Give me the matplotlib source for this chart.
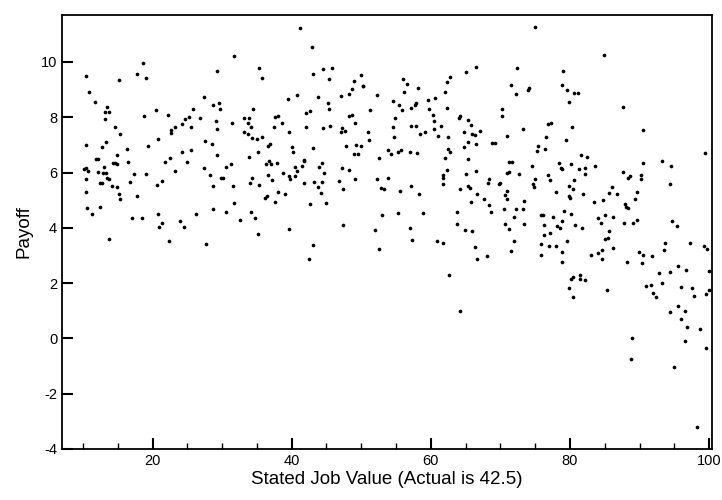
import matplotlib
matplotlib.use("Agg")
import matplotlib.pyplot as plt
from matplotlib.ticker import MultipleLocator

# stated job value (x) and payoff (y)
job_value = [
    10.4, 10.8, 11.8, 13.4, 13.1, 13.7, 13.2, 15.2, 17.7, 18.7, 19.0, 14.6, 15.3, 18.8, 20.5, 22.2,
    24.6, 25.3, 24.3, 23.2, 22.7, 22.7, 20.8, 19.3, 10.5, 12.7, 13.3, 16.3, 14.9, 11.9, 12.1, 14.3,
    14.6, 14.9, 16.5, 13.0, 10.2, 10.5, 10.7, 12.1, 12.9, 13.3, 17.3, 19.1, 21.8, 22.5, 23.3, 24.3,
    24.9,
    10.5, 12.4, 12.8, 13.5, 13.8, 14.2, 14.9, 16.7, 15.2, 15.3, 10.5, 17.8, 20.6, 21.3, 10.6, 11.3,
    12.5, 17.0, 18.5, 20.8, 21.4, 20.9, 23.9, 24.5, 13.8, 22.4,
    41.2, 31.7, 29.2, 35.3, 35.8, 27.4, 25.8, 28.7, 29.6, 29.7, 26.8, 29.1, 29.2, 25.6, 31.4, 33.2,
    33.9, 33.7, 34.1, 34.4, 33.1, 33.7, 34.3, 35.0, 35.8, 37.6, 38.1, 38.6, 37.4, 39.5, 40.7, 39.6,
    27.5, 28.6, 25.5, 29.2, 27.4, 28.3, 30.5, 31.3, 33.8, 35.1, 36.6, 36.9, 36.3, 37.0, 36.8, 37.9,
    38.7, 36.6, 40.0, 40.2, 40.5, 40.7, 41.5, 41.7, 41.8,
    29.9, 30.2, 28.7, 31.6, 34.0, 34.3, 35.3, 37.2, 39.6, 39.8, 40.5, 41.8, 36.1, 36.5, 38.0, 39.0,
    37.6, 31.7, 28.7, 26.2, 30.6, 34.2, 34.7, 32.6, 39.6, 35.1, 27.7,
    42.9, 43.0, 44.5, 45.8, 45.4, 43.8, 45.2, 45.4, 42.1, 42.6, 42.1, 44.5, 45.5, 47.1, 48.2, 48.7,
    48.9, 50.0, 50.2, 50.3, 52.3, 48.3, 48.7, 49.1, 51.2, 47.3, 47.1, 47.7, 50.9, 51.1, 47.8, 49.2,
    49.9, 48.9, 49.5, 43.1, 43.9, 44.3, 44.6, 47.3, 48.3, 52.5, 53.9, 54.3, 55.3, 55.7, 57.0, 58.0,
    56.0, 56.6, 56.2, 58.2, 54.6, 55.4, 55.9, 57.1, 57.7, 57.9, 54.9, 54.6, 54.7, 57.2, 57.9,
    43.2, 44.4, 43.8, 44.2, 46.8, 47.4, 49.1, 52.3, 53.8, 52.9, 53.2, 55.5, 57.1, 58.3, 42.6, 44.9,
    53.0, 55.3, 47.4, 52.0, 57.0, 57.3, 43.0, 52.5, 42.5,
    65.0, 66.5, 62.7, 62.3, 62.1, 60.6, 59.6, 59.7, 60.3, 62.3, 60.5, 61.4, 60.4, 59.1, 58.5, 61.1,
    64.0, 64.2, 65.4, 65.8, 64.7, 65.9, 66.4, 67.1, 62.5, 65.3, 66.5, 64.7, 62.5, 62.8, 62.1, 65.3,
    62.3, 61.7, 65.0, 66.5, 68.8, 69.2, 70.9, 70.2, 70.2, 71.5, 72.2, 72.4, 74.0, 74.1, 73.3, 71.2,
    71.6, 70.9, 71.2, 72.7,
    61.7, 61.7, 68.3, 68.2, 69.8, 70.0, 64.2, 65.4, 65.6, 66.6, 65.8, 67.6, 68.4, 68.7, 70.9, 70.7,
    71.0, 70.5, 72.3, 73.3, 73.4, 72.0, 58.9, 63.8, 63.8, 64.9, 65.9, 70.7, 71.2, 73.4, 71.9, 71.5,
    60.9, 61.8, 66.3, 66.7, 68.1, 62.6, 64.2,
    75.0, 84.9, 79.0, 78.9, 79.6, 80.6, 81.1, 79.9, 87.6, 76.8, 77.3, 80.3, 76.5, 79.4, 75.4, 75.2,
    76.4, 90.5, 81.6, 82.5, 74.6, 78.4, 78.7, 78.9, 80.1, 81.3, 82.1, 83.6, 76.8, 82.2, 90.5, 87.6,
    99.4, 93.2, 94.5,
    74.7, 74.8, 75.0, 77.2, 78.0, 79.9, 80.4, 80.6, 79.9, 80.0, 81.9, 88.4, 88.7, 90.2, 90.2, 86.1,
    85.6, 86.8, 89.7, 89.3, 83.5, 84.8, 87.9, 88.1, 88.3, 75.9, 76.1, 77.6, 79.1, 80.1, 78.9, 76.2,
    78.2, 78.6, 80.7, 81.7, 84.0, 85.0, 86.2, 84.5, 87.8, 89.1, 89.6, 85.6, 76.2, 77.2, 79.6, 85.1,
    85.5, 75.9, 77.0, 78.0, 75.9, 78.8, 78.9, 83.0, 84.0, 84.6, 84.6, 86.2, 88.2, 89.9, 90.5, 90.4,
    80.4, 80.1, 81.4, 81.4, 82.2, 79.9, 80.4, 85.3, 91.0, 88.9, 88.8,
    94.4, 94.6, 95.4, 97.2, 91.8, 92.8, 93.3, 92.4, 94.4, 95.6, 96.7, 95.9, 97.5, 97.8, 95.6, 96.6,
    96.0, 94.4, 96.8, 98.7, 99.7, 99.3, 100.0, 99.6, 100.0, 99.5, 96.6, 95.0, 98.2, 93.5, 93.7, 91.6,
    92.0,
]
payoff = [
    9.49, 8.90, 8.57, 8.38, 8.20, 8.20, 7.93, 9.36, 9.56, 9.96, 9.42, 7.65, 7.38, 8.04, 8.28, 8.09,
    7.92, 8.02, 7.74, 7.64, 7.53, 7.42, 7.22, 6.97, 6.98, 6.94, 7.11, 6.87, 6.63, 6.48, 6.49, 6.36,
    6.34, 6.30, 6.39, 6.19, 6.14, 6.18, 6.07, 6.02, 5.99, 5.99, 5.95, 5.96, 6.37, 6.53, 6.06, 6.76,
    6.39,
    5.78, 5.64, 5.64, 5.81, 5.76, 5.50, 5.49, 5.67, 5.24, 5.03, 5.30, 5.14, 5.55, 5.70, 4.73, 4.50,
    4.77, 4.36, 4.36, 4.51, 4.19, 4.04, 4.23, 4.04, 3.60, 3.54,
    11.24, 10.23, 9.66, 9.80, 9.41, 8.75, 8.31, 8.43, 8.50, 8.29, 7.96, 7.86, 7.59, 7.65, 7.79, 7.98,
    7.98, 7.79, 7.65, 8.31, 7.48, 7.40, 7.26, 7.23, 7.28, 8.02, 8.05, 7.80, 7.65, 8.66, 8.80, 7.46,
    7.13, 7.04, 6.80, 6.63, 6.16, 5.90, 6.19, 6.31, 6.58, 6.75, 6.97, 7.05, 6.31, 6.30, 6.42, 6.36,
    6.00, 5.93, 6.93, 6.74, 6.19, 6.06, 6.24, 6.47, 6.42,
    5.82, 5.79, 5.53, 5.52, 5.64, 5.80, 5.55, 5.74, 5.86, 5.76, 5.86, 5.64, 5.08, 5.14, 5.29, 5.21,
    4.92, 4.91, 4.70, 4.51, 4.57, 4.56, 4.34, 4.28, 3.96, 3.76, 3.41,
    10.53, 9.57, 9.73, 9.79, 9.38, 8.73, 8.50, 8.31, 8.16, 8.21, 7.65, 7.61, 7.70, 8.78, 8.83, 9.02,
    9.32, 9.53, 9.12, 9.13, 8.81, 8.04, 8.10, 7.80, 8.26, 7.61, 7.47, 7.50, 7.48, 7.18, 6.95, 6.99,
    6.95, 6.68, 6.66, 6.88, 6.19, 6.36, 6.00, 6.16, 6.08, 6.51, 6.82, 6.68, 6.74, 6.82, 6.75, 6.71,
    9.39, 9.22, 8.93, 9.06, 8.58, 8.44, 8.28, 8.34, 8.46, 8.52, 7.98, 7.64, 7.27, 7.70, 7.70,
    5.67, 5.67, 5.47, 5.26, 5.70, 5.40, 5.78, 5.76, 5.80, 5.45, 5.41, 5.34, 5.50, 5.23, 4.87, 4.89,
    4.48, 4.52, 4.09, 3.93, 4.01, 3.55, 3.38, 3.23, 2.87,
    9.65, 9.83, 9.45, 9.28, 8.91, 8.70, 8.62, 8.31, 8.10, 8.35, 7.86, 7.70, 7.58, 7.46, 7.38, 7.33,
    7.97, 8.05, 7.90, 7.71, 7.46, 7.40, 7.35, 7.52, 7.28, 7.11, 7.04, 6.94, 6.84, 6.75, 6.51, 6.49,
    6.08, 5.93, 5.96, 6.04, 7.07, 7.07, 7.33, 8.31, 8.04, 9.16, 8.83, 9.78, 9.00, 9.06, 7.59, 6.39,
    6.37, 6.00, 6.02, 5.96,
    5.79, 5.58, 5.78, 5.62, 5.57, 5.61, 5.39, 5.52, 5.45, 5.21, 4.93, 5.04, 4.82, 4.57, 5.33, 5.18,
    5.03, 4.70, 4.68, 4.68, 4.98, 4.38, 4.54, 4.56, 4.15, 3.94, 3.87, 4.15, 3.95, 4.15, 3.53, 3.17,
    3.54, 3.47, 3.31, 2.87, 2.97, 2.30, 1.01,
    11.27, 10.26, 9.67, 9.18, 8.97, 8.87, 8.87, 8.56, 8.37, 7.74, 7.81, 7.64, 7.30, 7.17, 6.95, 6.77,
    6.87, 7.53, 6.62, 6.57, 6.24, 6.35, 6.16, 6.14, 6.31, 6.14, 6.16, 6.22, 5.93, 5.95, 6.35, 6.02,
    6.72, 6.43, 6.25,
    5.58, 5.49, 5.76, 5.74, 5.31, 5.52, 5.40, 5.73, 5.16, 5.09, 5.24, 5.81, 5.88, 5.90, 5.76, 5.49,
    5.27, 5.24, 5.30, 5.03, 4.92, 5.00, 4.86, 4.76, 4.73, 4.48, 4.45, 4.40, 4.60, 4.51, 4.24, 4.11,
    4.06, 3.99, 4.12, 3.99, 4.36, 4.47, 4.38, 4.18, 4.18, 4.16, 4.30, 3.87, 3.75, 3.80, 3.54, 3.60,
    3.63, 3.43, 3.35, 3.34, 3.03, 3.11, 2.78, 3.01, 3.09, 3.19, 2.89, 3.28, 2.77, 3.13, 3.02, 2.72,
    2.24, 2.14, 2.31, 2.14, 2.13, 1.83, 1.49, 1.74, 1.89, 0.00, -0.76,
    5.58, 4.24, 4.06, 3.44, 2.97, 2.36, 2.00, 1.49, 2.39, 2.61, 2.46, 1.85, 1.81, 1.52, 1.16, 0.98,
    0.72, 0.94, 0.40, 0.33, 3.22, 3.33, 2.43, 1.59, 1.74, -0.33, -0.11, -1.05, -3.19, 3.19, 3.44, 1.92,
    1.63,
]

x_ticks = [20, 40, 60, 80, 100]
y_ticks = [-4, -2, 0, 2, 4, 6, 8, 10]

plt.rcParams['font.family'] = ['Liberation Sans', 'DejaVu Sans']
plt.rcParams['axes.unicode_minus'] = False

fig = plt.figure(figsize=(7.22, 5.0), dpi=100)
ax = fig.add_axes([0.086, 0.102, 0.900, 0.868])

ax.scatter(job_value, payoff, s=7, color='black', linewidths=0)

ax.set_xlim(7, 100.4)
ax.set_ylim(-4, 11.7)
ax.set_xticks(x_ticks)
ax.set_yticks(y_ticks)
ax.xaxis.set_minor_locator(MultipleLocator(5))

ax.tick_params(which='major', direction='in', length=8, width=1.5, labelsize=10.5)
ax.tick_params(which='minor', direction='in', length=4, width=1)
for sp in ax.spines.values():
    sp.set_linewidth(1.3)

ax.set_xlabel("Stated Job Value (Actual is 42.5)", fontsize=13.5, labelpad=2)
ax.set_ylabel("Payoff", fontsize=13.5, labelpad=6)

fig.savefig("out.png", dpi=100)
